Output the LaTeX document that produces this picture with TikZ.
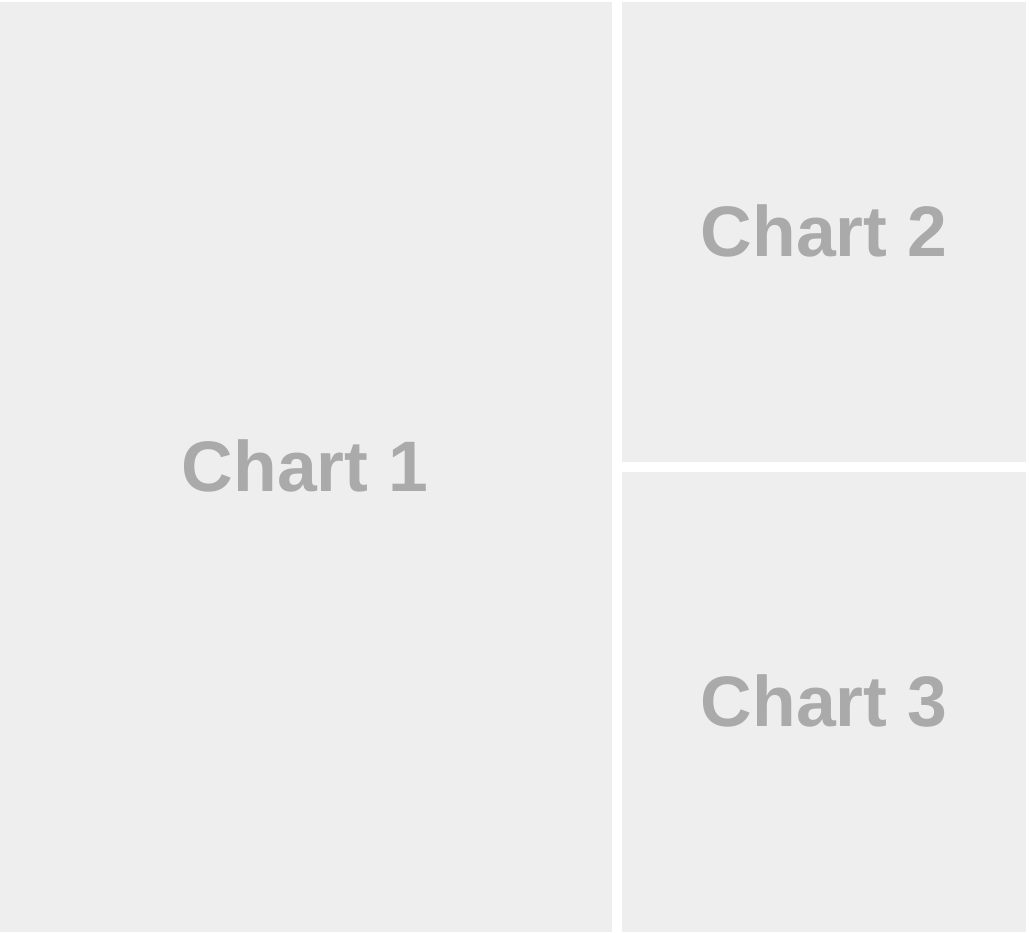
\documentclass[tikz,border=0pt]{standalone}
\usepackage{fontspec}
\setmainfont{Liberation Sans}
\definecolor{panelfill}{HTML}{EEEEEE}
\definecolor{labelgray}{HTML}{AAAAAA}
\begin{document}
\begin{tikzpicture}[x=1pt,y=-1pt,
  panel/.style={fill=panelfill,draw=none},
  lbl/.style={text=labelgray,font=\fontsize{71.5}{78}\selectfont\bfseries,inner sep=0pt,anchor=center}]
\useasboundingbox (0,0) rectangle (1030,932);
\fill[white] (0,0) rectangle (1030,932);
\path[panel] (0,2) rectangle (612,932);
\path[panel] (622,2) rectangle (1026,462);
\path[panel] (622,472) rectangle (1026,932);
\node[lbl] (c1) at (305,466) {Chart 1};
\node[lbl] (c2) at (824,231) {Chart 2};
\node[lbl] (c3) at (824,701) {Chart 3};
\end{tikzpicture}
\end{document}
